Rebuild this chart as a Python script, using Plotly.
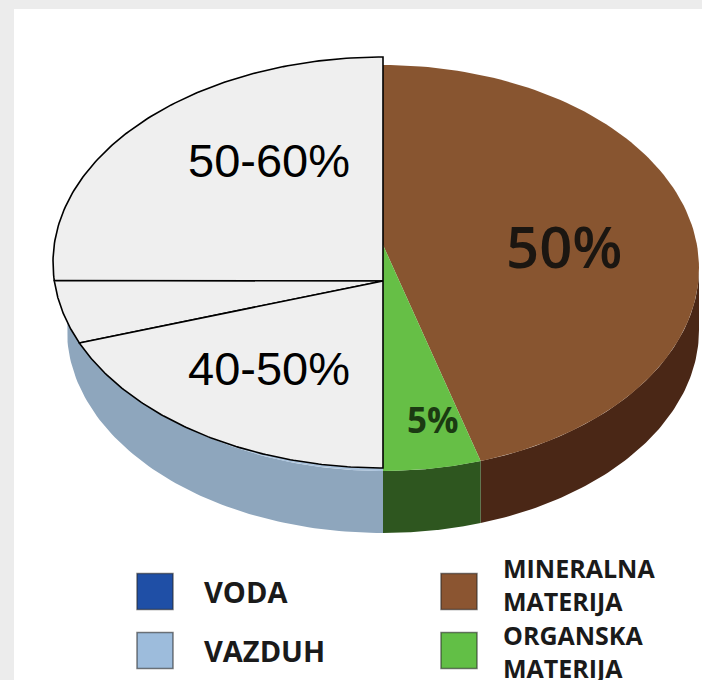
import numpy as np
import plotly.graph_objects as go

# ---------------- data ----------------
categories = ["VODA", "VAZDUH", "MINERALNA MATERIJA", "ORGANSKA MATERIJA"]
legend_colors = ["#1f4fa6", "#9dbcdc", "#8b5531", "#62bf46"]
legend_text = ["VODA", "VAZDUH", "MINERALNA<br>MATERIJA", "ORGANSKA<br>MATERIJA"]

# underlying 3D pie, clockwise from 12 o'clock
pie_categories = ["MINERALNA MATERIJA", "ORGANSKA MATERIJA", "VAZDUH", "VODA"]
pie_shares = [45, 5, 25, 25]
pie_labels = ["50%", "5%", "", ""]
pie_top_colors = ["#885530", "#66bf46", "#a9c2dc", "#1f4fa6"]
pie_side_colors = ["#4a2716", "#2e561f", "#8ea6bd", "#163a7c"]

# overlay half-pie, counter-clockwise from 12 o'clock
overlay_shares = [26.4, 5, 18.6]
overlay_labels = ["50-60%", "", "40-50%"]

# ---------------- geometry / style constants ----------------
CX, CY, RX, RY, DEPTH = 383, 268, 316, 203, 62
APEX = (383, 245)
OCX, OCY, ORX, ORY = 383, 262.5, 330, 205.5
OAPEX = (383, 281)


def ell(t_deg, cx, cy, rx, ry, dy=0):
    t = np.radians(t_deg)
    return cx + rx * np.sin(t), cy - ry * np.cos(t) + dy


fig = go.Figure()

bounds = np.concatenate([[0], np.cumsum(pie_shares)]) * 3.6

# sides (visible front half: 90..270 deg)
for i, cat in enumerate(pie_categories):
    a, b = max(bounds[i], 90), min(bounds[i + 1], 270)
    if b <= a:
        continue
    t = np.linspace(a, b, 80)
    xt, yt = ell(t, CX, CY, RX, RY)
    xb, yb = ell(t[::-1], CX, CY, RX, RY, DEPTH)
    fig.add_trace(go.Scatter(x=np.concatenate([xt, xb]), y=np.concatenate([yt, yb]),
                             fill="toself", fillcolor=pie_side_colors[i], mode="lines",
                             line=dict(width=0), hoverinfo="skip", showlegend=False))

# top faces
for i, cat in enumerate(pie_categories):
    t = np.linspace(bounds[i], bounds[i + 1], 120)
    xa, ya = ell(t, CX, CY, RX, RY)
    fig.add_trace(go.Scatter(x=np.concatenate([[APEX[0]], xa, [APEX[0]]]),
                             y=np.concatenate([[APEX[1]], ya, [APEX[1]]]),
                             fill="toself", fillcolor=pie_top_colors[i], mode="lines",
                             line=dict(width=0), hoverinfo="skip", showlegend=False, name=cat))

# overlay half-pie
ob = 360 - np.concatenate([[0], np.cumsum(overlay_shares)]) * 3.6
for i in range(len(overlay_shares)):
    t = np.linspace(ob[i], ob[i + 1], 120)
    xa, ya = ell(t, OCX, OCY, ORX, ORY)
    fig.add_trace(go.Scatter(x=np.concatenate([[OAPEX[0]], xa, [OAPEX[0]]]),
                             y=np.concatenate([[OAPEX[1]], ya, [OAPEX[1]]]),
                             fill="toself", fillcolor="#efefef", mode="lines",
                             line=dict(width=1.6, color="#000000"),
                             hoverinfo="skip", showlegend=False))

# legend (2x2 grid)
leg_x = [155, 459]
leg_y = [591.5, 650.5]
text_x = [202, 501]
text_y = [591.5, 650.5, 584, 651]
annotations = []
for idx, cat in enumerate(categories):
    col = 0 if idx < 2 else 1
    row = idx % 2
    fig.add_trace(go.Scatter(x=[leg_x[col]], y=[leg_y[row]], mode="markers",
                             marker=dict(symbol="square", size=36, color=legend_colors[idx],
                                         line=dict(width=1.5, color="rgba(40,40,40,0.6)")),
                             hoverinfo="skip", showlegend=False, name=cat))
    two = "<br>" in legend_text[idx]
    annotations.append(dict(x=text_x[col], y=text_y[idx], text="<b>" + legend_text[idx] + "</b>",
                            showarrow=False, xanchor="left", yanchor="middle", align="left",
                            font=dict(family="Open Sans", size=25 if two else 29, color="#1a1a1a")))

# overlay labels
ov_label_y = [160, 0, 368]
for lab, y in zip(overlay_labels, ov_label_y):
    if lab:
        annotations.append(dict(x=352, y=y, text=lab, showarrow=False, xanchor="right",
                                yanchor="middle",
                                font=dict(family="Liberation Sans, Arial", size=47, color="#000000")))
# pie labels
annotations.append(dict(x=564, y=245, text=pie_labels[0], showarrow=False,
                        font=dict(family="Open Sans", size=58, weight=600, color="#1b1611")))
annotations.append(dict(x=433, y=419, text="<b>" + pie_labels[1] + "</b>", showarrow=False,
                        font=dict(family="Open Sans", size=35, color="#1b3a12")))

fig.update_layout(
    width=702, height=680,
    margin=dict(l=0, r=0, t=0, b=0),
    paper_bgcolor="#ececec", plot_bgcolor="rgba(0,0,0,0)",
    xaxis=dict(range=[0, 702], visible=False, fixedrange=True),
    yaxis=dict(range=[680, 0], visible=False, fixedrange=True),
    shapes=[dict(type="rect", xref="x", yref="y", x0=14, x1=702, y0=9, y1=680,
                 fillcolor="#ffffff", line=dict(width=0), layer="below")],
    annotations=annotations,
)

fig.write_html("out.html", config={"displayModeBar": False},
               post_script="document.body.style.margin='0';document.body.style.overflow='hidden';")
